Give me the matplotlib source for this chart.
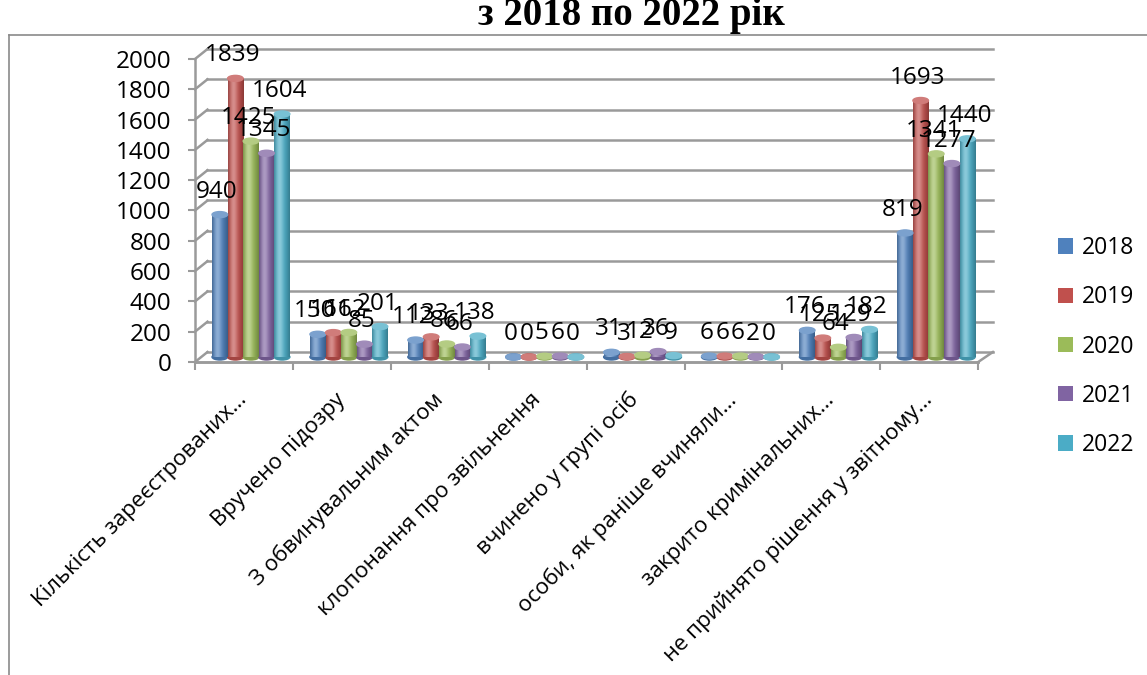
import numpy as np
import matplotlib.pyplot as plt
from matplotlib.patches import Ellipse
from matplotlib.lines import Line2D
from matplotlib.colors import to_rgb

categories = [
    "Кількість зареєстрованих…",
    "Вручено підозру",
    "З обвинувальним актом",
    "клопонання про звільнення",
    "вчинено у групі осіб",
    "особи, як раніше вчиняли…",
    "закрито кримінальних…",
    "не прийнято рішення у звітному…",
]
years = ["2018", "2019", "2020", "2021", "2022"]
v2018 = [940, 150, 112, 0, 31, 6, 176, 819]
v2019 = [1839, 161, 133, 0, 3, 6, 125, 1693]
v2020 = [1425, 162, 86, 5, 12, 6, 64, 1341]
v2021 = [1345, 85, 66, 6, 36, 2, 129, 1277]
v2022 = [1604, 201, 138, 0, 9, 0, 182, 1440]
y_ticks = list(range(0, 2001, 200))
colors = ["#4F81BD", "#C0504D", "#9BBB59", "#8064A2", "#4BACC6"]

plt.rcParams["font.family"] = ["Open Sans", "DejaVu Sans"]

W, H = 1147, 675
fig = plt.figure(figsize=(W / 100, H / 100), dpi=100)

# pixel geometry of the fake 3d plot
X0, CAT_W = 195, 97.9      # front-left corner, px per category
Y0, PX_UNIT = 357, 0.1515  # bar base, px per value unit
ax_l, ax_r, ax_t, ax_b = 120, 1010, 20, 390
ax = fig.add_axes([ax_l / W, 1 - ax_b / H, (ax_r - ax_l) / W, (ax_b - ax_t) / H])
xlim = ((ax_l - X0) / CAT_W, (ax_r - X0) / CAT_W)
ylim = ((Y0 - ax_b) / PX_UNIT, (Y0 - ax_t) / PX_UNIT)

DY = 5 / PX_UNIT      # half depth, value units
DX = 12.5 / CAT_W     # depth shift, category units
RIGHT_BACK = 8.15
grid_c = "#9a9a9a"

# back wall gridlines + left wall diagonals
for v in y_ticks:
    ax.plot([0, DX], [v - DY, v + DY], color=grid_c, lw=1.8, zorder=1)
    ax.plot([DX, RIGHT_BACK], [v + DY, v + DY], color=grid_c, lw=1.8, zorder=1)
# floor
ax.plot([0, 8], [-DY, -DY], color=grid_c, lw=1.8, zorder=1)
ax.plot([8, RIGHT_BACK], [-DY, DY], color=grid_c, lw=1.8, zorder=1)

series = [v2018, v2019, v2020, v2021, v2022]
bar_w = 0.159
bar_off = 0.174
t = np.linspace(0, 1, 40)
light = np.exp(-((t - 0.35) / 0.25) ** 2)
shade = 0.72 + 0.28 * np.clip(1 - ((t - 0.35) / 0.65) ** 2, 0, 1)
shade[t < 0.35] = 0.78 + 0.22 * (1 - ((0.35 - t[t < 0.35]) / 0.35) ** 2)
ell_h = 6 / PX_UNIT

handles = []
for j, vals in enumerate(series):
    xs = np.arange(len(categories)) + bar_off + j * bar_w
    bars = ax.bar(xs, vals, width=bar_w, align="edge", color=colors[j], zorder=3)
    handles.append(bars)
    base = np.array(to_rgb(colors[j]))
    img = base[None, :] * shade[:, None] + (1 - base[None, :]) * 0.35 * light[:, None]
    img = np.clip(img, 0, 1)[None, :, :]
    top_c = np.clip(base + (1 - base) * 0.25, 0, 1)
    for x, v in zip(xs, vals):
        xc = x + bar_w / 2
        ax.add_patch(Ellipse((xc, 0), bar_w, ell_h, color=base * 0.85, zorder=2.9))
        if v > 0:
            ax.imshow(img, extent=[x, x + bar_w, 0, v], aspect="auto", zorder=3.1,
                      interpolation="bilinear")
        ax.add_patch(Ellipse((xc, v), bar_w, ell_h, color=top_c, zorder=3.2))
        ax.annotate(str(v), (xc, v), xytext=(-2, 16.5), textcoords="offset points",
                    ha="center", va="center", fontsize=17.5, color="black", zorder=5)

ax.set_xlim(*xlim)
ax.set_ylim(*ylim)
ax.patch.set_visible(False)
for s in ["top", "right"]:
    ax.spines[s].set_visible(False)
ax.spines["left"].set_position(("data", 0))
ax.spines["left"].set_bounds(-DY, 2000 - DY)
ax.spines["bottom"].set_position(("data", -DY))
ax.spines["bottom"].set_bounds(0, 8)
for s in ["left", "bottom"]:
    ax.spines[s].set_color(grid_c)
    ax.spines[s].set_linewidth(1.8)

ax.set_yticks([v - DY for v in y_ticks])
ax.set_yticklabels([str(v) for v in y_ticks])
ax.tick_params(axis="y", length=5, width=1.5, color=grid_c, pad=12, labelsize=17.5)

ax.set_xticks(range(len(categories) + 1))
ax.set_xticklabels([])
ax.set_xticks(np.arange(len(categories)) + 0.5, minor=True)
ax.set_xticklabels(categories, minor=True)
ax.tick_params(axis="x", which="major", length=6, width=1.5, color=grid_c)
ax.tick_params(axis="x", which="minor", length=0, pad=25, labelsize=16)
plt.setp(ax.get_xticklabels(minor=True), rotation=45, ha="right", va="center",
         rotation_mode="anchor")

fig.legend(handles, years, loc="center left", bbox_to_anchor=(1058 / W, 1 - 346.5 / H),
           frameon=False, fontsize=16.5, handlelength=0.65, handleheight=0.65,
           handletextpad=0.4, labelspacing=1.1, borderpad=0, borderaxespad=0)

# chart area border
fig.add_artist(Line2D([9 / W, 9 / W], [0, 1 - 35 / H], color="#8a8a8a", lw=1.2))
fig.add_artist(Line2D([9 / W, 1], [1 - 35 / H, 1 - 35 / H], color="#8a8a8a", lw=1.2))

# title, partly cut off at the top like the source
fig.text(631 / W, 1 - 25 / H, "з 2018 по 2022 рік", ha="center", va="baseline",
         fontsize=28, fontweight="bold", family=["Liberation Serif", "DejaVu Serif"])

fig.savefig("out.png", dpi=100)
